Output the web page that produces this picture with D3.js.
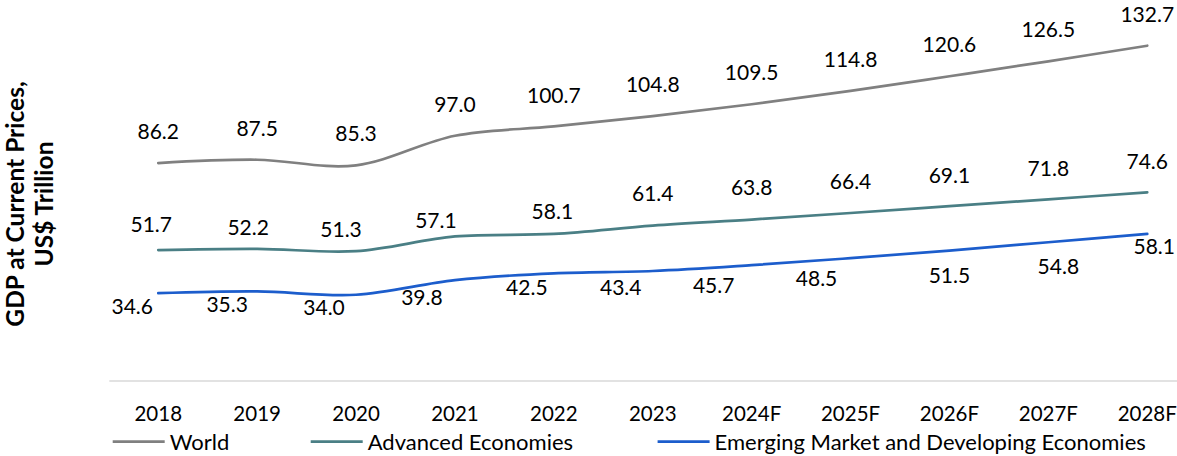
<!DOCTYPE html>
<html>
<head>
<meta charset="utf-8">
<script src="https://cdn.jsdelivr.net/npm/d3@7"></script>
<style>
  html, body { margin: 0; padding: 0; background: #ffffff; }
  svg { display: block; }
  text { font-family: Lato, "Liberation Sans", sans-serif; fill: #000; }
</style>
</head>
<body>
<svg id="chart" width="1177" height="456"></svg>
<script>
// ---- data ----
const categories = ["2018", "2019", "2020", "2021", "2022", "2023", "2024F", "2025F", "2026F", "2027F", "2028F"];
const worldValues = [86.2, 87.5, 85.3, 97.0, 100.7, 104.8, 109.5, 114.8, 120.6, 126.5, 132.7];
const advancedValues = [51.7, 52.2, 51.3, 57.1, 58.1, 61.4, 63.8, 66.4, 69.1, 71.8, 74.6];
const emergingValues = [34.6, 35.3, 34.0, 39.8, 42.5, 43.4, 45.7, 48.5, 51.5, 54.8, 58.1];
const seriesNames = ["World", "Advanced Economies", "Emerging Market and Developing Economies"];
const yTitleLines = ["GDP at Current Prices,", "US$ Trillion"];

// ---- layout (label nudges in px, like manually moved Excel labels) ----
const worldLabelDx = [0, 0, 0, 0, 0, 0, 0, 0, 0, 0, 0];
const worldLabelDy = [-31.5, -31.5, -31.5, -31.5, -31.5, -31.5, -31.5, -31.5, -31.5, -31.5, -31.5];
const advancedLabelDx = [-7, -9, -15, -19, -1.5, 0, 0, 0, 0, 0, 0];
const advancedLabelDy = [-26, -21.5, -21.8, -16.4, -22.2, -32, -32, -31.3, -31.2, -31, -30.6];
const emergingLabelDx = [-26, -30, -32, -33, -27, -32, -38, -34, 0, 10, 7];
const emergingLabelDy = [13.5, 12.6, 12.6, 17.2, 14, 16.3, 19.8, 20.2, 24.4, 24.5, 12.8];

const colors = ["#808080", "#4a7f85", "#1c5dcc"];
const labelSize = 21;
const tickSize = 20.5;
const legendSize = 22;

const svg = d3.select("#chart");

const x = d3.scaleBand().domain(categories).range([108.8, 1196.7]).padding(0);
const xc = c => x(c) + x.bandwidth() / 2;
const y = d3.scaleLinear().domain([0, 140]).range([380.5, 27.3]);

// axis
const xAxis = d3.axisBottom(x).tickSize(0).tickPadding(0);
const gx = svg.append("g").attr("transform", `translate(0,${y(0)})`).call(xAxis);
gx.select(".domain").attr("stroke", "#d9d9d9").attr("stroke-width", 1.5);
gx.selectAll(".tick text")
  .attr("y", 32.8 + 0.36 * tickSize)
  .attr("dy", null)
  .style("font-family", "Lato, 'Liberation Sans', sans-serif")
  .style("font-size", tickSize + "px")
  .attr("fill", "#000");

// lines
const series = [
  { values: worldValues, dx: worldLabelDx, dy: worldLabelDy },
  { values: advancedValues, dx: advancedLabelDx, dy: advancedLabelDy },
  { values: emergingValues, dx: emergingLabelDx, dy: emergingLabelDy }
];

const line = d3.line()
  .x((d, i) => xc(categories[i]))
  .y(d => y(d))
  .curve(d3.curveCardinal.tension(0));

series.forEach((s, k) => {
  svg.append("path")
    .attr("d", line(s.values))
    .attr("fill", "none")
    .attr("stroke", colors[k])
    .attr("stroke-width", 2.7)
    .attr("stroke-linecap", "round");
});

series.forEach((s, k) => {
  svg.append("g").selectAll("text")
    .data(s.values)
    .join("text")
    .attr("x", (d, i) => xc(categories[i]) + s.dx[i])
    .attr("y", (d, i) => y(d) + s.dy[i] + 0.36 * labelSize)
    .attr("text-anchor", "middle")
    .style("font-size", labelSize + "px")
    .text(d => d.toFixed(1));
});

// y title
const yt = svg.append("text")
  .attr("transform", "translate(0,204) rotate(-90)")
  .attr("text-anchor", "middle")
  .style("font-size", "24.5px")
  .style("font-weight", "bold");
yt.append("tspan").attr("x", 0).attr("y", 24).text(yTitleLines[0]);
yt.append("tspan").attr("x", 0).attr("y", 53).text(yTitleLines[1]);

// legend
const legendX = [112.7, 310.7, 657.6];
const legendY = 441.7;
const lg = svg.append("g").selectAll("g").data(seriesNames).join("g")
  .attr("transform", (d, i) => `translate(${legendX[i]},${legendY})`);
lg.append("line").attr("x1", 0).attr("x2", 52).attr("y1", 0).attr("y2", 0)
  .attr("stroke", (d, i) => colors[i]).attr("stroke-width", 2.7);
lg.append("text").attr("x", 57).attr("y", 0.36 * legendSize)
  .style("font-size", legendSize + "px").text(d => d);
</script>
</body>
</html>
